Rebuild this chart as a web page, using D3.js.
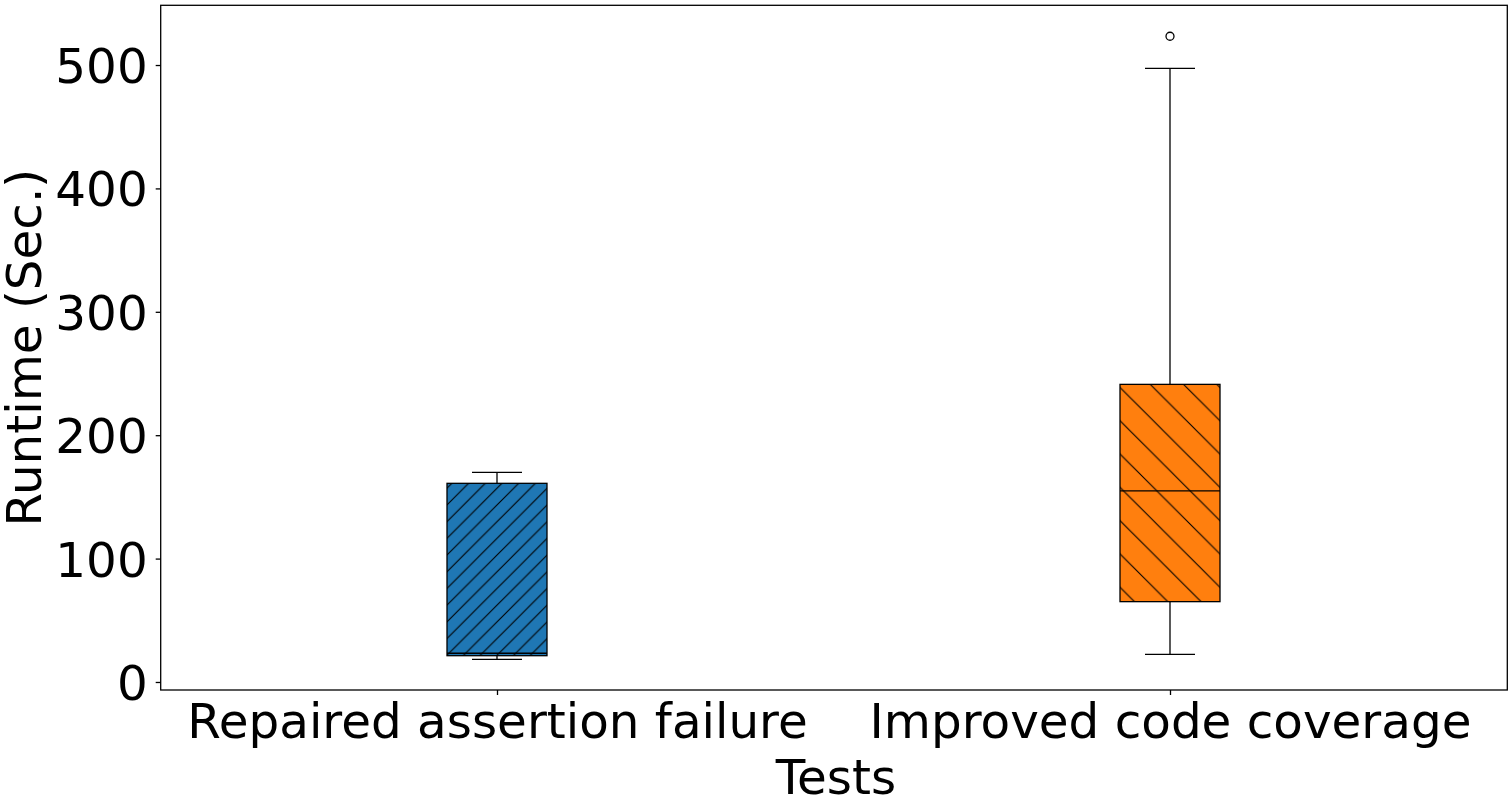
<!DOCTYPE html>
<html>
<head>
<meta charset="utf-8">
<script src="https://cdn.jsdelivr.net/npm/d3@7"></script>
<style>
  body { margin: 0; background: #fff; }
  svg text { font-family: "DejaVu Sans", sans-serif; fill: #000; }
</style>
</head>
<body>
<svg width="1512" height="801"></svg>
<script>
// box summaries
const categories = ['Repaired assertion failure', 'Improved code coverage'];
const whiskerLow = [18.4, 22.4];
const q1 = [21.3, 65.1];
const median = [23.3, 154.8];
const q3 = [161.0, 241.2];
const whiskerHigh = [169.9, 497.3];
const outliers = [[], [523.3]];
const boxColors = ['#1f77b4', '#ff7f0e'];
const yTicks = [0, 100, 200, 300, 400, 500];

const svg = d3.select('svg'),
    margin = {top: 5.3, right: 4.7, bottom: 111, left: 160.7},
    width = +svg.attr('width'),
    height = +svg.attr('height');

const fontSize = '48.4px';

const x = d3.scalePoint()
    .domain(categories)
    .range([497, 1170]);

const y = d3.scaleLinear()
    .domain([-6.5, 548.4])
    .range([height - margin.bottom, margin.top]);

// hatch patterns, anchored to page coords like matplotlib
const defs = svg.append('defs');
function hatch(id, s, forward) {
    const p = defs.append('pattern')
        .attr('id', id)
        .attr('patternUnits', 'userSpaceOnUse')
        .attr('width', s)
        .attr('height', s);
    const d = forward
        ? `M0,${s} L${s},0 M${-s},${s} L${s},${-s} M0,${2 * s} L${2 * s},0`
        : `M0,0 L${s},${s} M${-s},0 L${s},${2 * s} M0,${-s} L${2 * s},${s}`;
    p.append('path').attr('d', d)
        .attr('stroke', '#000').attr('stroke-width', 1.1).attr('fill', 'none');
}
hatch('h0', 16.7, true);
hatch('h1', 33.3, false);

const boxW = 100, capW = 50;

const g = svg.append('g');
categories.forEach(function (c, i) {
    const cx = x(c);
    const box = g.append('g');
    // whiskers
    box.append('line')
        .attr('x1', cx).attr('x2', cx)
        .attr('y1', y(whiskerLow[i])).attr('y2', y(q1[i]))
        .attr('stroke', '#000').attr('stroke-width', 1.3);
    box.append('line')
        .attr('x1', cx).attr('x2', cx)
        .attr('y1', y(q3[i])).attr('y2', y(whiskerHigh[i]))
        .attr('stroke', '#000').attr('stroke-width', 1.3);
    [whiskerLow[i], whiskerHigh[i]].forEach(function (v) {
        box.append('line')
            .attr('x1', cx - capW / 2).attr('x2', cx + capW / 2)
            .attr('y1', y(v)).attr('y2', y(v))
            .attr('stroke', '#000').attr('stroke-width', 1.3);
    });
    // box body + hatch
    box.append('rect')
        .attr('x', cx - boxW / 2).attr('width', boxW)
        .attr('y', y(q3[i])).attr('height', y(q1[i]) - y(q3[i]))
        .attr('fill', boxColors[i]);
    box.append('rect')
        .attr('x', cx - boxW / 2).attr('width', boxW)
        .attr('y', y(q3[i])).attr('height', y(q1[i]) - y(q3[i]))
        .attr('fill', 'url(#h' + i + ')')
        .attr('stroke', '#000').attr('stroke-width', 1.3);
    // median
    box.append('line')
        .attr('x1', cx - boxW / 2).attr('x2', cx + boxW / 2)
        .attr('y1', y(median[i])).attr('y2', y(median[i]))
        .attr('stroke', '#000').attr('stroke-width', 1.3);
    // fliers
    box.selectAll('circle')
        .data(outliers[i])
        .enter().append('circle')
        .attr('cx', cx).attr('cy', function (d) { return y(d); })
        .attr('r', 4)
        .attr('fill', 'none').attr('stroke', '#000').attr('stroke-width', 1.3);
});

// frame
svg.append('rect')
    .attr('x', margin.left).attr('y', margin.top)
    .attr('width', width - margin.left - margin.right)
    .attr('height', height - margin.bottom - margin.top)
    .attr('fill', 'none').attr('stroke', '#000').attr('stroke-width', 1.3);

// y axis
const yAxis = svg.append('g')
    .attr('transform', `translate(${margin.left},0)`)
    .call(d3.axisLeft(y).tickValues(yTicks).tickSize(5).tickPadding(8));
yAxis.select('.domain').remove();
yAxis.selectAll('.tick line').attr('stroke-width', 1.3);
yAxis.selectAll('text')
    .style('font-size', fontSize).attr('dy', '0.36em');

// x axis
const xAxis = svg.append('g')
    .attr('transform', `translate(0,${height - margin.bottom})`)
    .call(d3.axisBottom(x).tickSize(5).tickPadding(8));
xAxis.select('.domain').remove();
xAxis.selectAll('.tick line').attr('stroke-width', 1.3);
xAxis.selectAll('text')
    .style('font-size', fontSize).attr('dy', null).attr('y', 48);

// axis titles
svg.append('text')
    .attr('x', (margin.left + width - margin.right) / 2 + 2)
    .attr('y', 794)
    .attr('text-anchor', 'middle')
    .style('font-size', fontSize)
    .text('Tests');

svg.append('text')
    .attr('transform', `translate(41,${(margin.top + height - margin.bottom) / 2}) rotate(-90)`)
    .attr('text-anchor', 'middle')
    .style('font-size', fontSize)
    .text('Runtime (Sec.)');
</script>
</body>
</html>
